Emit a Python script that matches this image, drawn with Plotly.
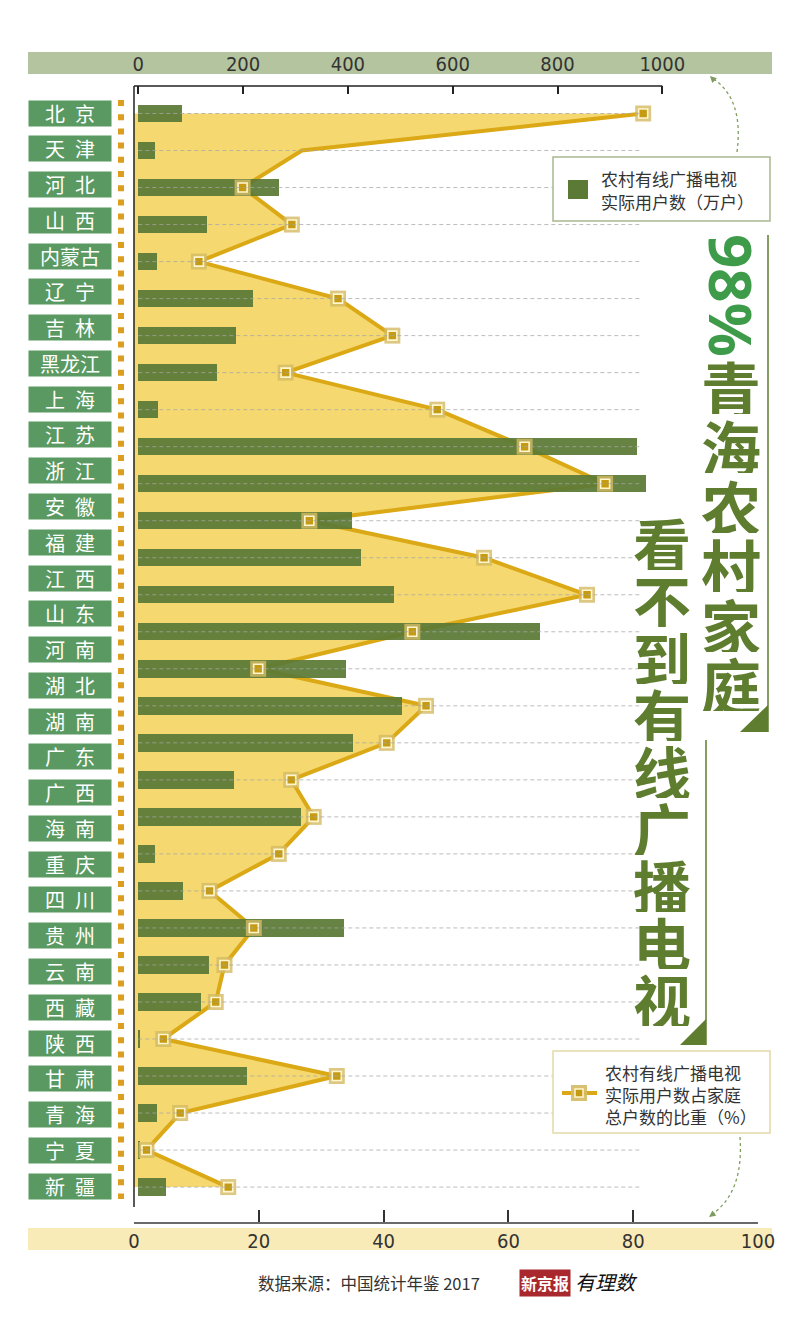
import plotly.graph_objects as go

province_labels = ["北京", "天津", "河北", "山西", "内蒙古", "辽宁", "吉林", "黑龙江", "上海", "江苏",
                   "浙江", "安徽", "福建", "江西", "山东", "河南", "湖北", "湖南", "广东", "广西",
                   "海南", "重庆", "四川", "贵州", "云南", "西藏", "陕西", "甘肃", "青海", "宁夏", "新疆"]

# plotted rows as drawn in the source (30 rows)
users_10k = [83, 32, 269, 132, 36, 219, 187, 151, 38, 952,
             968, 407, 425, 488, 766, 397, 504, 410, 182, 311,
             31, 85, 392, 135, 120, 2.5, 208, 36, 2, 53]
share_pct = [81.6, 26.9, 17.4, 25.3, 10.4, 32.7, 41.4, 24.3, 48.6, 62.6,
             75.5, 28.1, 56.1, 72.6, 44.6, 19.9, 46.8, 40.5, 25.2, 28.8,
             23.2, 12.1, 19.2, 14.5, 13.1, 4.7, 32.5, 7.4, 2.0, 15.1]
no_marker_rows = [1]

bar_ticks = [0, 200, 400, 600, 800, 1000]
pct_ticks = [0, 20, 40, 60, 80, 100]

legend_bar_text = ["农村有线广播电视", "实际用户数（万户）"]
legend_line_text = ["农村有线广播电视", "实际用户数占家庭", "总户数的比重（%）"]
title_num = "98%"
title_col1 = "青海农村家庭"
title_col2 = "看不到有线广播电视"
source_text = "数据来源：中国统计年鉴 2017"
logo_a = "新京报"
logo_b = "有理数"

# ---------------- styles / geometry ----------------
W, H = 800, 1330
L, R, T, B = 134, 758, 86, 1222


def px(x):
    return (x - L) / (R - L)


def py(y):
    return (B - y) / (B - T)


BAR_ZERO_PX, BAR_PX_PER_UNIT = 138.3, 0.524
bar_range = [(L - BAR_ZERO_PX) / BAR_PX_PER_UNIT, (R - BAR_ZERO_PX) / BAR_PX_PER_UNIT]
ROW0_PX, ROW_STEP = 113.5, 37.02
y_range = [(B - ROW0_PX) / ROW_STEP, (T - ROW0_PX) / ROW_STEP]
LAB0_PX, LAB_STEP = 113, 35.77
GRID_END = 960

BAR_C = "#5b7a36"
FILL_C = "#f5d970"
LINE_C = "#dba816"
LABEL_BG = "#5a9a62"
TITLE_C = "#5e7d2e"
TITLE_NUM_C = "#3e9b4a"
ARROW_C = "#7f9c5e"
TICK_FONT = dict(family="Liberation Sans Narrow, DejaVu Sans Condensed, sans-serif", size=20, color="#333")
CJK = "Noto Sans CJK SC"

rows = list(range(len(users_10k)))
marker_opacity = [0 if i in no_marker_rows else 1 for i in rows]

fig = go.Figure()
# yellow area + line (base percent axis)
fig.add_trace(go.Scatter(x=share_pct, y=rows, xaxis="x", yaxis="y", mode="lines",
                         line=dict(color=LINE_C, width=4), fill="tozerox", fillcolor=FILL_C,
                         hoverinfo="skip"))
# bars (top axis, 万户)
fig.add_trace(go.Bar(x=users_10k, y=rows, orientation="h", xaxis="x2", yaxis="y",
                     marker=dict(color=BAR_C, line_width=0), width=0.47, opacity=0.93,
                     hoverinfo="skip"))
# markers (percent axis, drawn on top)
fig.add_trace(go.Scatter(x=share_pct, y=rows, xaxis="x3", yaxis="y", mode="markers",
                         marker=dict(symbol="square", size=16, color="rgba(212,186,100,0.8)",
                                     opacity=marker_opacity), hoverinfo="skip"))
fig.add_trace(go.Scatter(x=share_pct, y=rows, xaxis="x3", yaxis="y", mode="markers",
                         marker=dict(symbol="square", size=9, color="#c49b12",
                                     line=dict(color="#fff6d0", width=1.6),
                                     opacity=marker_opacity), hoverinfo="skip"))

shapes = []
# axis bands
shapes.append(dict(type="rect", xref="paper", yref="paper", x0=px(28), x1=px(772), y0=py(74), y1=py(52),
                   fillcolor="#b4c49e", line_width=0, layer="below"))
shapes.append(dict(type="rect", xref="paper", yref="paper", x0=px(28), x1=px(772), y0=py(1250), y1=py(1228),
                   fillcolor="#f9ebb8", line_width=0, layer="below"))
# top axis line and left vertical line
shapes.append(dict(type="line", xref="x2", yref="paper", x0=bar_range[0], x1=bar_ticks[-1], y0=1, y1=1,
                   line=dict(color="#222", width=1.5)))
shapes.append(dict(type="line", xref="paper", yref="paper", x0=0, x1=0, y0=py(1207), y1=1,
                   line=dict(color="#222", width=1.5)))
# dashed row guides
for i in rows:
    shapes.append(dict(type="line", xref="x2", yref="y", x0=0, x1=GRID_END, y0=i, y1=i,
                       line=dict(color="rgba(165,165,165,0.75)", width=1, dash="4px,3px"), layer="above"))
# orange dotted column
shapes.append(dict(type="line", xref="paper", yref="paper", x0=px(121), x1=px(121), y0=py(100), y1=py(1199),
                   line=dict(color="#dd9d1e", width=6, dash="6px,8.2px")))
# legend box 1
shapes.append(dict(type="rect", xref="paper", yref="paper", x0=px(553), x1=px(770), y0=py(221), y1=py(157),
                   fillcolor="white", line=dict(color="#a8b88e", width=1.5), layer="above"))
shapes.append(dict(type="rect", xref="paper", yref="paper", x0=px(568), x1=px(588), y0=py(199), y1=py(180),
                   fillcolor=BAR_C, line_width=0, layer="above"))
# legend box 2
shapes.append(dict(type="rect", xref="paper", yref="paper", x0=px(553), x1=px(770), y0=py(1133), y1=py(1051),
                   fillcolor="white", line=dict(color="#e4d9a6", width=1.5), layer="above"))
shapes.append(dict(type="line", xref="paper", yref="paper", x0=px(562), x1=px(597), y0=py(1093), y1=py(1093),
                   line=dict(color=LINE_C, width=4), layer="above"))
shapes.append(dict(type="rect", xref="paper", yref="paper", x0=px(571), x1=px(587), y0=py(1101), y1=py(1085),
                   fillcolor="rgba(212,186,100,0.9)", line_width=0, layer="above"))
shapes.append(dict(type="rect", xref="paper", yref="paper", x0=px(575), x1=px(583), y0=py(1097), y1=py(1089),
                   fillcolor="#c49b12", line=dict(color="#fff6d0", width=1.5), layer="above"))
# title rules and corner triangles
shapes.append(dict(type="line", xref="paper", yref="paper", x0=px(768), x1=px(768), y0=py(732), y1=py(235),
                   line=dict(color=TITLE_C, width=1.5)))
shapes.append(dict(type="path", xref="paper", yref="paper",
                   path=f"M {px(740)},{py(732)} L {px(768)},{py(732)} L {px(768)},{py(705)} Z",
                   fillcolor=TITLE_C, line_width=0))
shapes.append(dict(type="line", xref="paper", yref="paper", x0=px(706), x1=px(706), y0=py(1045), y1=py(740),
                   line=dict(color=TITLE_C, width=1.5)))
shapes.append(dict(type="path", xref="paper", yref="paper",
                   path=f"M {px(680)},{py(1045)} L {px(706)},{py(1045)} L {px(706)},{py(1019)} Z",
                   fillcolor=TITLE_C, line_width=0))
# dashed curved arrows
shapes.append(dict(type="path", xref="paper", yref="paper",
                   path=f"M {px(737)},{py(152)} Q {px(744)},{py(98)} {px(712)},{py(78)}",
                   line=dict(color=ARROW_C, width=1.3, dash="3px,3px")))
shapes.append(dict(type="path", xref="paper", yref="paper",
                   path=f"M {px(740)},{py(1137)} Q {px(744)},{py(1193)} {px(711)},{py(1215)}",
                   line=dict(color=ARROW_C, width=1.3, dash="3px,3px")))

ann = []


def text_at(x, y, text, font, xanchor="center", **kw):
    ann.append(dict(x=px(x), y=py(y), xref="paper", yref="paper", text=text, showarrow=False,
                    xanchor=xanchor, yanchor="middle", font=font, **kw))


# province label boxes
for i, name in enumerate(province_labels):
    txt = name if len(name) > 2 else name[0] + "\u2002" + name[1]
    text_at(69.5, LAB0_PX + i * LAB_STEP, txt, dict(family=CJK, size=20, color="white"),
            bgcolor=LABEL_BG, width=82, height=25, borderpad=0)
# legend texts
for k, line in enumerate(legend_bar_text):
    text_at(599, 178 + k * 24, line, dict(family=CJK, size=17, color="#333"), xanchor="left")
for k, line in enumerate(legend_line_text):
    text_at(603, 1072 + k * 22, line, dict(family=CJK, size=17, color="#333"), xanchor="left")
# vertical title
text_at(732, 295, title_num, dict(family="Noto Sans, DejaVu Sans", size=60, color=TITLE_NUM_C, weight="bold"),
        textangle=90, height=56)
for k, ch in enumerate(title_col1):
    text_at(731, 386 + k * 59.4, ch, dict(family=CJK, size=60, color=TITLE_C, weight="bold"), height=56)
for k, ch in enumerate(title_col2):
    text_at(662, 543 + k * 57, ch, dict(family=CJK, size=58, color=TITLE_C, weight="bold"), height=54)
# arrow heads
ann.append(dict(x=px(710), y=py(76), xref="paper", yref="paper", text="", showarrow=True, arrowhead=2,
                arrowsize=1, arrowwidth=1.3, arrowcolor=ARROW_C, ax=6, ay=6))
ann.append(dict(x=px(709), y=py(1217), xref="paper", yref="paper", text="", showarrow=True, arrowhead=2,
                arrowsize=1, arrowwidth=1.3, arrowcolor=ARROW_C, ax=7, ay=-5))
# footer
text_at(369, 1283, source_text, dict(family=CJK, size=16.5, color="#333"))
text_at(545, 1283, logo_a, dict(family=CJK, size=16, color="white", weight="bold"),
        bgcolor="#a8282e", borderpad=1)
text_at(606, 1281, logo_b, dict(family=CJK, size=20, color="#111", style="italic"))

fig.update_layout(
    width=W, height=H,
    margin=dict(l=L, r=W - R, t=T, b=H - B, pad=0),
    paper_bgcolor="white", plot_bgcolor="rgba(0,0,0,0)",
    showlegend=False, bargap=0,
    xaxis=dict(domain=[0, 1], range=[0, 100], side="bottom", anchor="y", tickvals=pct_ticks,
               ticks="inside", ticklen=12, tickwidth=1.5, tickcolor="#333",
               showline=True, linecolor="#6a6a6a", linewidth=2, showgrid=False, zeroline=False,
               tickfont=TICK_FONT, ticklabelstandoff=0, fixedrange=True),
    xaxis2=dict(overlaying="x", side="top", anchor="y", range=bar_range, tickvals=bar_ticks,
                ticks="inside", ticklen=8, tickwidth=1.5, tickcolor="#222",
                showline=False, showgrid=False, zeroline=False,
                tickfont=TICK_FONT, ticklabelstandoff=10, fixedrange=True),
    xaxis3=dict(overlaying="x", range=[0, 100], visible=False, fixedrange=True),
    yaxis=dict(range=y_range, showgrid=False, zeroline=False, showticklabels=False, ticks="",
               showline=False, fixedrange=True),
    shapes=shapes,
    annotations=ann,
)

fig.write_html("out.html", config={"displayModeBar": False},
               post_script="document.body.style.margin='0';")
